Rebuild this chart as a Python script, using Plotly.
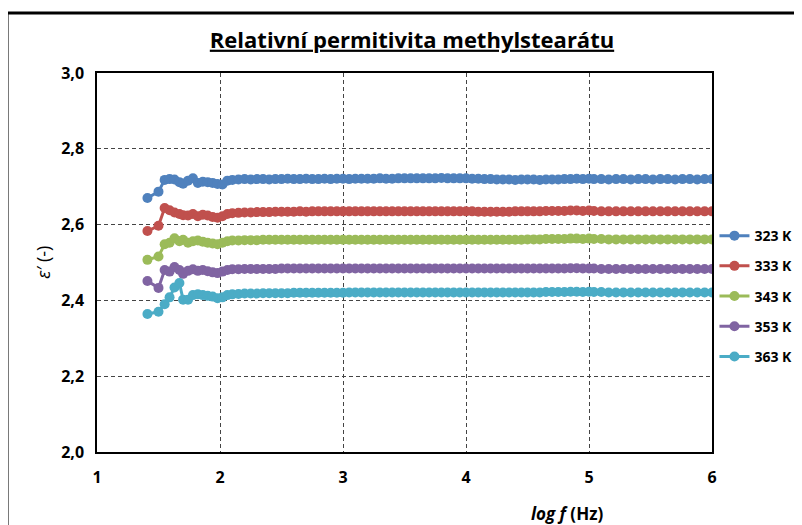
import plotly.graph_objects as go

# log f (Hz)
log_f = [
    1.41, 1.50, 1.55, 1.59, 1.63, 1.67, 1.70, 1.74, 1.78, 1.82, 1.86, 1.90, 1.94, 1.98, 2.02, 2.06, 2.10,
    2.15, 2.20, 2.25, 2.30, 2.35, 2.40, 2.45, 2.50, 2.55, 2.60, 2.65, 2.70, 2.75, 2.80, 2.85, 2.90,
    2.95, 3.00, 3.05, 3.10, 3.15, 3.20, 3.25, 3.30, 3.35, 3.40, 3.45, 3.50, 3.55, 3.60, 3.65, 3.70,
    3.75, 3.80, 3.85, 3.90, 3.95, 4.00, 4.05, 4.10, 4.15, 4.20, 4.25, 4.30, 4.35, 4.40, 4.45, 4.50,
    4.55, 4.60, 4.65, 4.70, 4.75, 4.80, 4.85, 4.90, 4.95, 5.00,
    5.04, 5.10, 5.16, 5.22, 5.28, 5.34, 5.40, 5.46, 5.52, 5.58, 5.64, 5.70, 5.76, 5.82, 5.88, 5.94, 6.00,
]

eps_323 = [
    2.670, 2.687, 2.718, 2.720, 2.719, 2.712, 2.708, 2.716, 2.722, 2.710, 2.713, 2.712, 2.710, 2.707, 2.706, 2.716, 2.718,
    2.719, 2.720, 2.719, 2.720, 2.720, 2.719, 2.720, 2.720, 2.721, 2.720, 2.720, 2.721, 2.720, 2.720, 2.721, 2.720,
    2.721, 2.721, 2.720, 2.721, 2.721, 2.721, 2.721, 2.722, 2.721, 2.721, 2.722, 2.722, 2.722, 2.722, 2.722, 2.722,
    2.722, 2.723, 2.722, 2.722, 2.722, 2.722, 2.721, 2.721, 2.720, 2.720, 2.719, 2.719, 2.719, 2.718, 2.719, 2.719,
    2.719, 2.718, 2.719, 2.719, 2.719, 2.720, 2.720, 2.721, 2.720, 2.721,
    2.720, 2.720, 2.719, 2.720, 2.720, 2.719, 2.720, 2.720, 2.719, 2.720, 2.720, 2.719, 2.720, 2.720, 2.719, 2.720, 2.720,
]

eps_333 = [
    2.583, 2.597, 2.644, 2.638, 2.632, 2.628, 2.625, 2.624, 2.628, 2.622, 2.626, 2.624, 2.620, 2.618, 2.622, 2.628, 2.630,
    2.631, 2.632, 2.632, 2.633, 2.633, 2.633, 2.634, 2.634, 2.634, 2.634, 2.635, 2.634, 2.635, 2.635, 2.635, 2.635,
    2.635, 2.635, 2.635, 2.635, 2.635, 2.635, 2.635, 2.635, 2.635, 2.635, 2.635, 2.635, 2.635, 2.635, 2.635, 2.635,
    2.635, 2.635, 2.635, 2.635, 2.635, 2.635, 2.635, 2.634, 2.634, 2.634, 2.634, 2.634, 2.634, 2.635, 2.635, 2.635,
    2.635, 2.635, 2.636, 2.636, 2.636, 2.636, 2.637, 2.637, 2.636, 2.637,
    2.636, 2.635, 2.635, 2.635, 2.635, 2.635, 2.635, 2.635, 2.635, 2.635, 2.635, 2.635, 2.635, 2.635, 2.635, 2.635, 2.635,
]

eps_343 = [
    2.507, 2.516, 2.548, 2.552, 2.564, 2.556, 2.560, 2.552, 2.556, 2.558, 2.555, 2.552, 2.550, 2.548, 2.552, 2.556, 2.558,
    2.558, 2.559, 2.559, 2.559, 2.560, 2.560, 2.560, 2.560, 2.560, 2.560, 2.560, 2.560, 2.560, 2.560, 2.560, 2.560,
    2.560, 2.560, 2.560, 2.560, 2.560, 2.560, 2.560, 2.560, 2.560, 2.560, 2.560, 2.560, 2.560, 2.560, 2.560, 2.560,
    2.560, 2.560, 2.560, 2.560, 2.560, 2.560, 2.560, 2.560, 2.560, 2.560, 2.560, 2.560, 2.560, 2.560, 2.560, 2.561,
    2.561, 2.561, 2.562, 2.562, 2.562, 2.562, 2.563, 2.563, 2.562, 2.563,
    2.562, 2.562, 2.561, 2.561, 2.561, 2.561, 2.561, 2.561, 2.561, 2.561, 2.561, 2.561, 2.561, 2.561, 2.561, 2.561, 2.561,
]

eps_353 = [
    2.451, 2.433, 2.480, 2.476, 2.488, 2.480, 2.470, 2.478, 2.482, 2.478, 2.480, 2.477, 2.474, 2.472, 2.476, 2.480, 2.482,
    2.482, 2.483, 2.483, 2.483, 2.483, 2.483, 2.483, 2.484, 2.484, 2.484, 2.484, 2.484, 2.484, 2.484, 2.484, 2.484,
    2.484, 2.484, 2.484, 2.484, 2.484, 2.484, 2.484, 2.484, 2.484, 2.484, 2.484, 2.484, 2.484, 2.484, 2.484, 2.484,
    2.484, 2.484, 2.484, 2.484, 2.484, 2.484, 2.484, 2.484, 2.484, 2.484, 2.484, 2.484, 2.484, 2.484, 2.484, 2.484,
    2.484, 2.484, 2.484, 2.484, 2.484, 2.484, 2.485, 2.485, 2.484, 2.484,
    2.484, 2.483, 2.483, 2.483, 2.483, 2.483, 2.483, 2.483, 2.483, 2.483, 2.483, 2.483, 2.483, 2.483, 2.483, 2.483, 2.483,
]

eps_363 = [
    2.364, 2.370, 2.390, 2.408, 2.434, 2.446, 2.402, 2.402, 2.414, 2.416, 2.414, 2.412, 2.410, 2.406, 2.408, 2.414, 2.416,
    2.417, 2.418, 2.418, 2.418, 2.419, 2.419, 2.419, 2.419, 2.419, 2.420, 2.420, 2.420, 2.420, 2.420, 2.420, 2.420,
    2.420, 2.420, 2.421, 2.421, 2.421, 2.421, 2.421, 2.421, 2.421, 2.421, 2.421, 2.421, 2.421, 2.421, 2.421, 2.421,
    2.421, 2.421, 2.421, 2.421, 2.421, 2.421, 2.421, 2.421, 2.421, 2.421, 2.421, 2.421, 2.421, 2.421, 2.421, 2.421,
    2.421, 2.421, 2.422, 2.422, 2.422, 2.422, 2.423, 2.423, 2.422, 2.423,
    2.422, 2.422, 2.421, 2.421, 2.421, 2.421, 2.421, 2.421, 2.421, 2.421, 2.421, 2.421, 2.421, 2.421, 2.421, 2.421, 2.421,
]

series_names = ["323 K", "333 K", "343 K", "353 K", "363 K"]
series_values = [eps_323, eps_333, eps_343, eps_353, eps_363]
colors = ["#4F81BD", "#C0504D", "#9BBB59", "#8064A2", "#4BACC6"]

FONT = "Open Sans, sans-serif"

fig = go.Figure()
for i, (name, vals, color) in enumerate(zip(series_names, series_values, colors)):
    fig.add_trace(
        go.Scatter(
            x=log_f,
            y=vals,
            name=name,
            legendgroup=f"g{i}",
            mode="lines+markers",
            line={"color": color, "width": 3},
            marker={"color": color, "size": 10},
        )
    )

axis_common = dict(
    showline=True,
    linecolor="black",
    linewidth=1.5,
    mirror=True,
    ticks="",
    showgrid=True,
    gridcolor="#444444",
    gridwidth=1,
    griddash="4px,3px",
    zeroline=False,
    tickfont={"family": FONT, "size": 16, "color": "black", "weight": "bold"},
)

fig.update_xaxes(range=[1, 6], dtick=1, tick0=1, ticklabelstandoff=10, **axis_common)
fig.update_yaxes(range=[2, 3], dtick=0.2, tick0=2, tickformat=".1f", ticklabelstandoff=8, **axis_common)

# page body has an 8px margin, so the figure is 8px smaller than the window
fig.update_layout(
    width=794,
    height=517,
    separators=", ",
    plot_bgcolor="white",
    paper_bgcolor="white",
    margin={"l": 89, "r": 90, "t": 65, "b": 73, "autoexpand": False},
    title={
        "text": "<u>Relativní permitivita methylstearátu</u>",
        "x": 404 / 794,
        "xanchor": "center",
        "y": 1 - 32 / 517,
        "yanchor": "middle",
        "font": {"family": FONT, "size": 22, "color": "black", "weight": "bold"},
    },
    legend={
        "x": 1.004,
        "xanchor": "left",
        "y": 0.612,
        "yanchor": "top",
        "font": {"family": FONT, "size": 14, "color": "black", "weight": "bold"},
        "itemwidth": 30,
        "tracegroupgap": 9,
        "bgcolor": "rgba(0,0,0,0)",
    },
    annotations=[
        {
            "text": "<i>log f</i> (Hz)",
            "xref": "paper",
            "yref": "paper",
            "x": 0.764,
            "y": -0.161,
            "xanchor": "center",
            "yanchor": "middle",
            "showarrow": False,
            "font": {"family": FONT, "size": 17, "color": "black", "weight": "bold"},
        },
        {
            "text": "<i>ε′</i> (-)",
            "xref": "paper",
            "yref": "paper",
            "x": -0.089,
            "y": 0.5,
            "xanchor": "center",
            "yanchor": "middle",
            "textangle": -90,
            "showarrow": False,
            "font": {"family": FONT, "size": 18, "color": "black"},
        },
    ],
    shapes=[
        {
            "type": "rect",
            "xref": "paper",
            "yref": "paper",
            "x0": -0.1463,
            "x1": 1.16,
            "y0": -0.23,
            "y1": 1.158,
            "line": {"color": "black", "width": 3},
            "layer": "below",
        }
    ],
    showlegend=True,
)

fig.write_html("out.html")
